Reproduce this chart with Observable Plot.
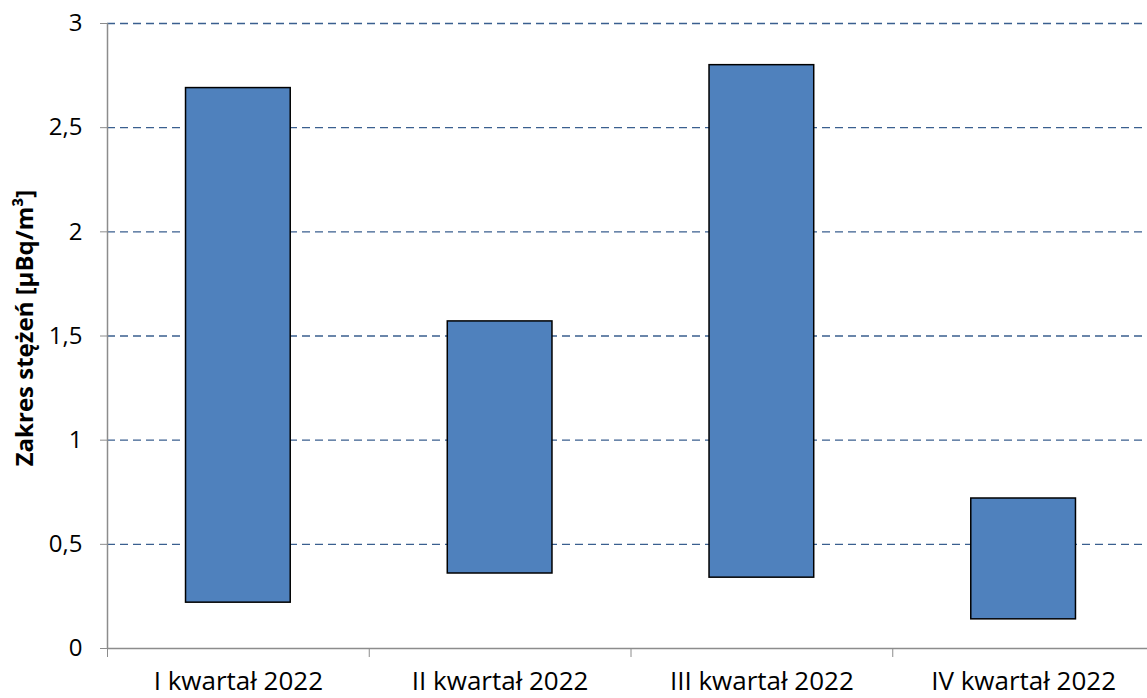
<!DOCTYPE html>
<html>
<head>
<meta charset="utf-8">
<script src="https://cdn.jsdelivr.net/npm/d3@7"></script>
<script src="https://cdn.jsdelivr.net/npm/@observablehq/plot@0.6"></script>
<style>
  html, body { margin: 0; padding: 0; background: #fff; }
  #chart svg { display: block; }
</style>
</head>
<body>
<div id="chart"></div>
<script>
const categories = ["I kwartał 2022", "II kwartał 2022", "III kwartał 2022", "IV kwartał 2022"];
const minValues = [0.22, 0.36, 0.34, 0.14];
const maxValues = [2.69, 1.57, 2.80, 0.72];
const yTicks = [0, 0.5, 1, 1.5, 2, 2.5, 3];
const yLabel = "Zakres stężeń [µBq/m³]";

const data = categories.map((c, i) => ({cat: c, idx: i, lo: minValues[i], hi: maxValues[i]}));
const boundaries = d3.range(categories.length + 1);
const centers = categories.map((c, i) => i + 0.5);
const fmt = d => String(d).replace(".", ",");
const font = "'Open Sans', sans-serif";

const chart = Plot.plot({
  width: 1147,
  height: 698,
  marginLeft: 107,
  marginRight: 0,
  marginTop: 23,
  marginBottom: 50,
  style: {fontFamily: font, fontSize: "25px", color: "#000", background: "#fff"},
  x: {domain: [0, categories.length], range: [107, 1154], axis: null},
  y: {domain: [0, 3], axis: null},
  marks: [
    Plot.ruleY(yTicks.filter(d => d > 0), {stroke: "#3a5f8f", strokeWidth: 1.3, strokeDasharray: "8,5"}),
    Plot.rectY(data, {
      x1: d => d.idx + 0.3, x2: d => d.idx + 0.7,
      y1: "lo", y2: "hi",
      fill: "#4f81bd", stroke: "#000", strokeWidth: 1.5
    }),
    Plot.ruleX([0], {stroke: "#8c8c8c", strokeWidth: 1.5}),
    Plot.ruleY([0], {stroke: "#8c8c8c", strokeWidth: 1.5}),
    Plot.axisY({ticks: yTicks, tickFormat: fmt, tickSize: 7, tickPadding: 18, stroke: "#8c8c8c", fontSize: 24, label: null}),
    Plot.axisX({ticks: boundaries, tickFormat: () => "", tickSize: 9, stroke: "#8c8c8c", label: null}),
    Plot.axisX({ticks: centers, tickFormat: d => categories[Math.floor(d)], tickSize: 0, tickPadding: 23, fontSize: 26, label: null}),
    Plot.text([yLabel], {
      frameAnchor: "left", textAnchor: "middle", dx: -82, dy: -8, rotate: -90, fontWeight: "bold", fontSize: 24
    })
  ]
});
document.getElementById("chart").appendChild(chart);
</script>
</body>
</html>
